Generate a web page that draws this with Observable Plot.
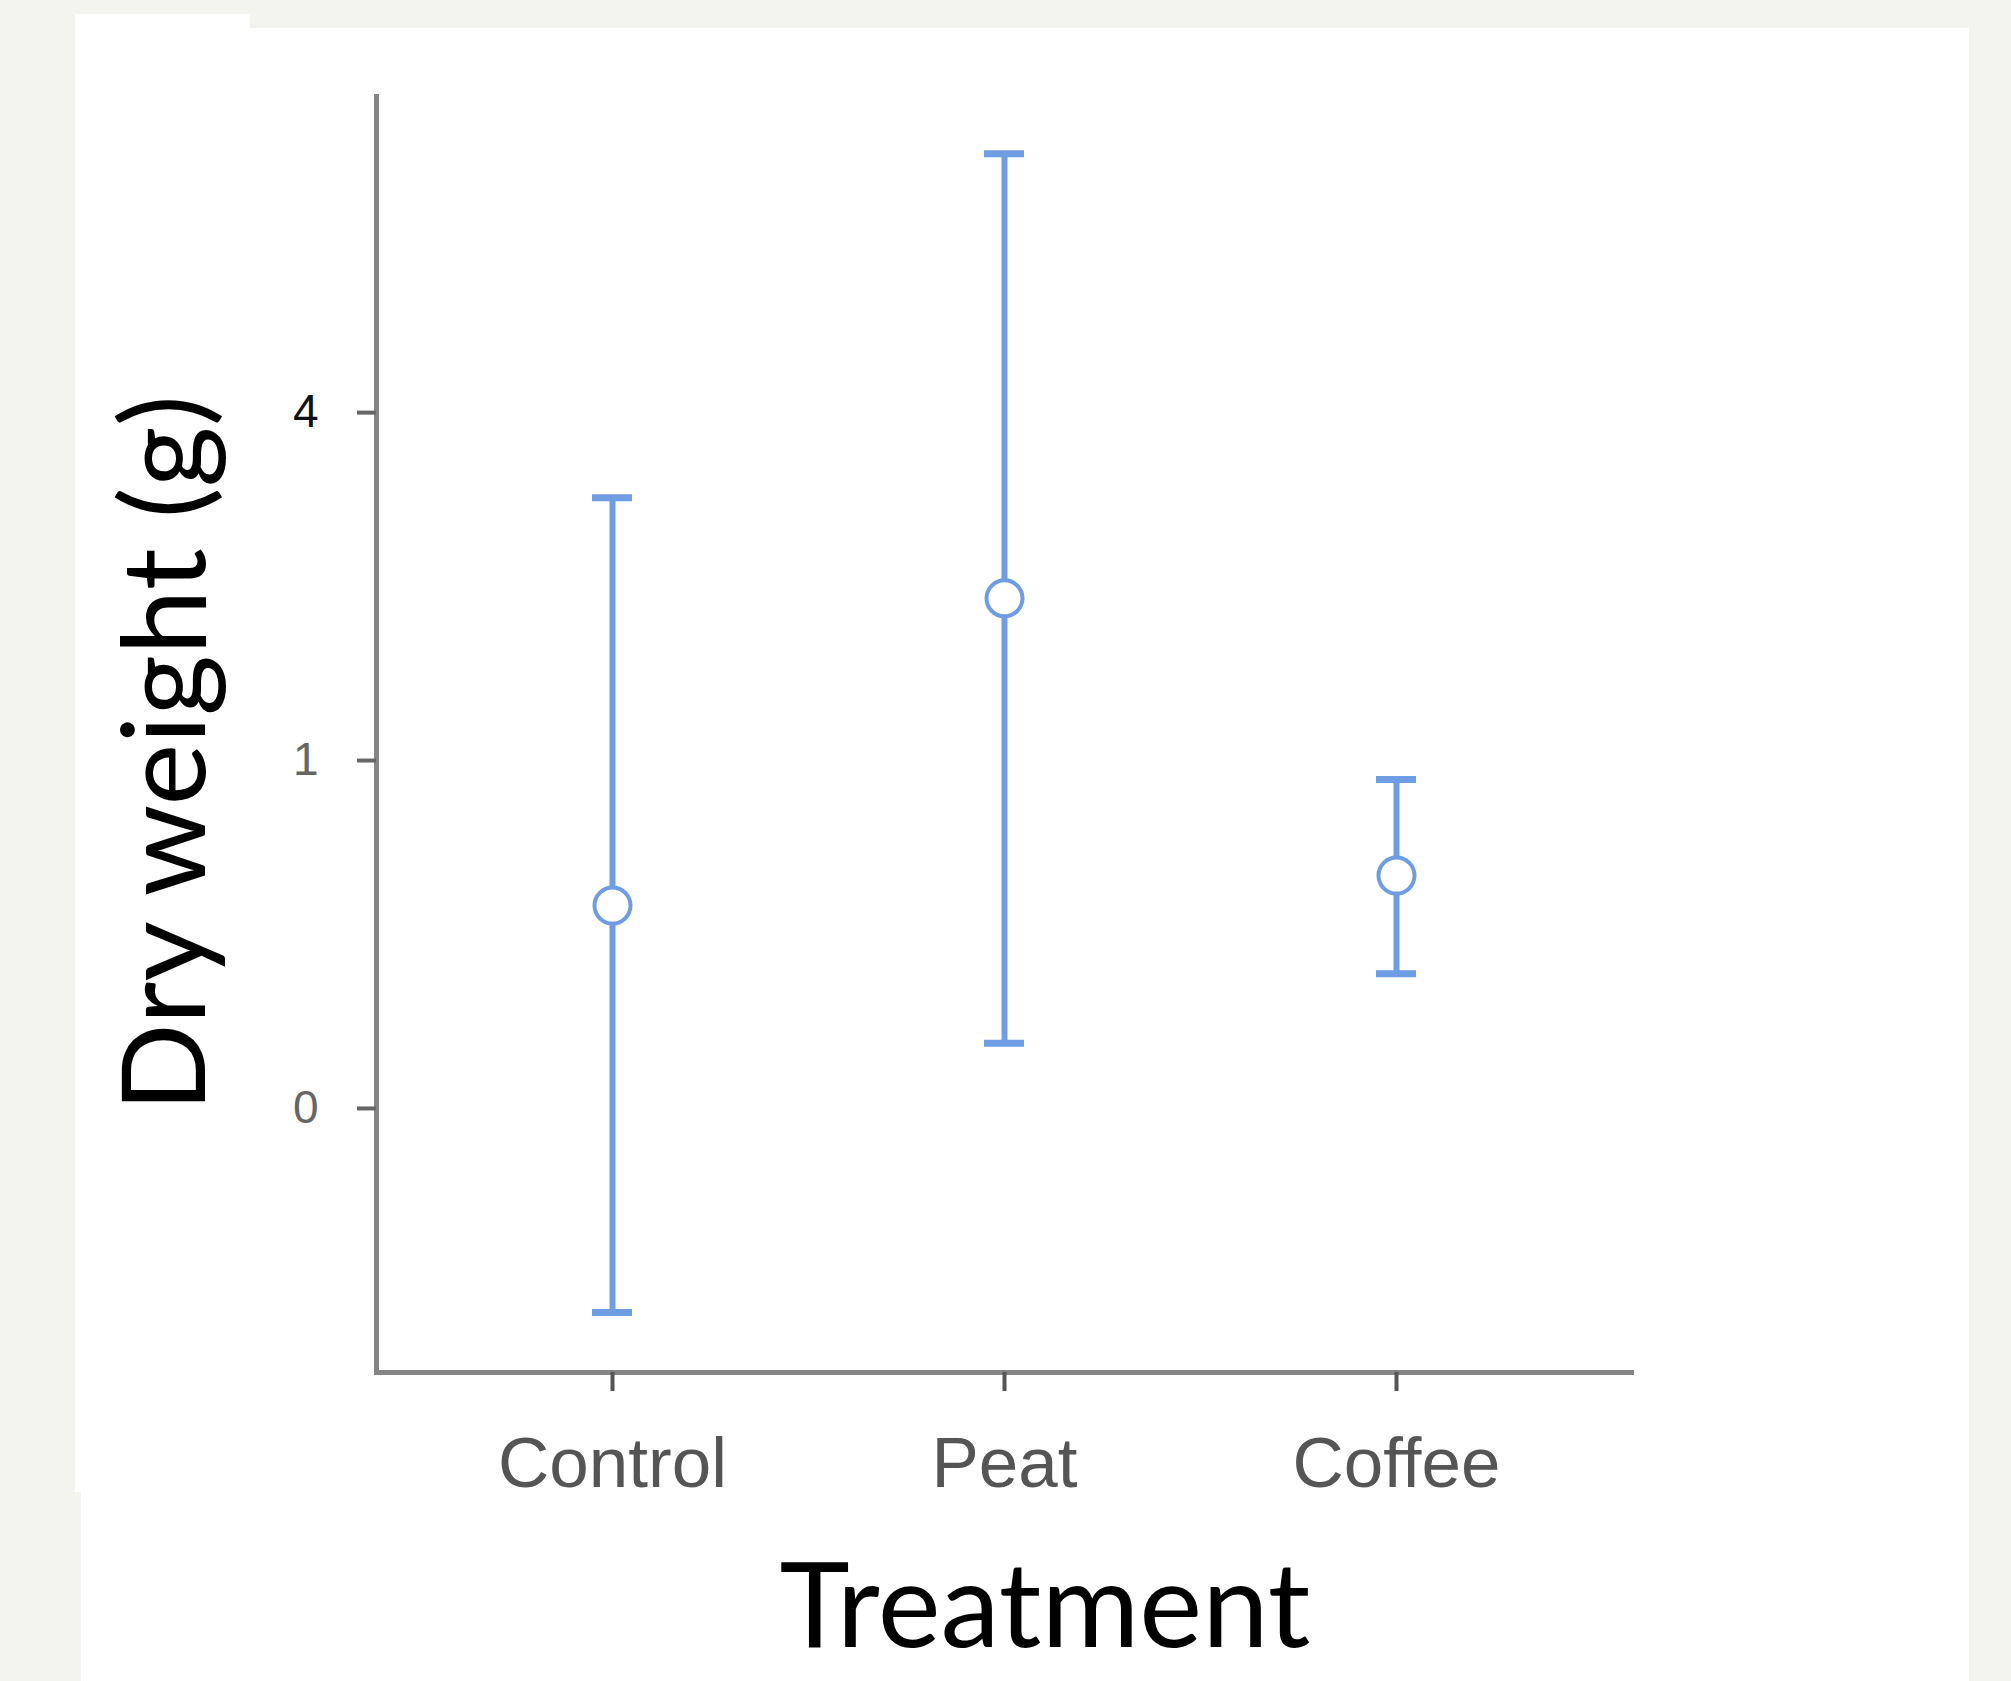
<!DOCTYPE html>
<html>
<head>
<meta charset="utf-8">
<script src="https://cdn.jsdelivr.net/npm/d3@7"></script>
<script src="https://cdn.jsdelivr.net/npm/@observablehq/plot@0.6"></script>
<style>
  html, body { margin: 0; padding: 0; }
  body { width: 2011px; height: 1681px; background: #f3f4ef; position: relative; overflow: hidden; }
  .panel { position: absolute; background: #ffffff; }
  #chart { position: absolute; left: 0; top: 0; }
  #chart svg { background: transparent !important; }
</style>
</head>
<body>
<div class="panel" style="left:75px; top:14px; width:175px; height:20px;"></div>
<div class="panel" style="left:75px; top:28px; width:1894px; height:1464px;"></div>
<div class="panel" style="left:81px; top:1490px; width:1888px; height:191px;"></div>
<div id="chart"></div>
<script>
// Data
const treatments = ["Control", "Peat", "Coffee"];
const means = [0.34, 2.15, 0.448];
const lower = [-0.344, 0.035, 0.15];
const upper = [3.08, 7.53, 0.894];
const yTicksDark = [4];
const yTicksGray = [0, 1];
const yDomain = [-0.576, 8.46];

const data = treatments.map((t, i) => ({t, mean: means[i], lo: lower[i], hi: upper[i]}));

const blue = "#6e9de4";
const axisGray = "#858585";
const capInset = 176;

const chart = Plot.plot({
  width: 2011,
  height: 1681,
  marginLeft: 376,
  marginRight: 380,
  marginTop: 96,
  marginBottom: 309,
  style: {background: "transparent", fontFamily: "'Liberation Sans', Arial, sans-serif"},
  x: {type: "band", domain: treatments, paddingInner: 0, paddingOuter: 0.1},
  y: {type: "sqrt", domain: yDomain},
  marks: [
    Plot.frame({anchor: "left", stroke: axisGray, strokeWidth: 5}),
    Plot.frame({anchor: "bottom", stroke: axisGray, strokeWidth: 5}),
    Plot.axisY(yTicksDark, {tickSize: 19, tickPadding: 39, fontSize: 46, tickFormat: d => String(d), fill: "#111", stroke: "#666", strokeWidth: 4, label: null}),
    Plot.axisY(yTicksGray, {tickSize: 19, tickPadding: 39, fontSize: 46, tickFormat: d => String(d), fill: "#666", stroke: "#666", strokeWidth: 4, label: null}),
    Plot.axisX({tickSize: 19, tickPadding: 45, fontSize: 71, fill: "#555", stroke: "#555", strokeWidth: 4, label: null}),
    Plot.ruleX(data, {x: "t", y1: "lo", y2: "hi", stroke: blue, strokeWidth: 6}),
    Plot.tickY(data, {x: "t", y: "hi", stroke: blue, strokeWidth: 7, insetLeft: capInset, insetRight: capInset}),
    Plot.tickY(data, {x: "t", y: "lo", stroke: blue, strokeWidth: 7, insetLeft: capInset, insetRight: capInset}),
    Plot.dot(data, {x: "t", y: "mean", r: 18, fill: "white", stroke: blue, strokeWidth: 4}),
    Plot.text(["Dry weight (g)"], {frameAnchor: "left", textAnchor: "middle", dx: -209, dy: 19, rotate: -90, fontSize: 117, fontFamily: "Lato", fill: "#000", lineAnchor: "middle"}),
    Plot.text(["Treatment"], {frameAnchor: "bottom", textAnchor: "middle", dx: 41, dy: 236, fontSize: 119, fontFamily: "Lato", fill: "#000", lineAnchor: "middle"})
  ]
});
document.getElementById("chart").appendChild(chart);
</script>
</body>
</html>
